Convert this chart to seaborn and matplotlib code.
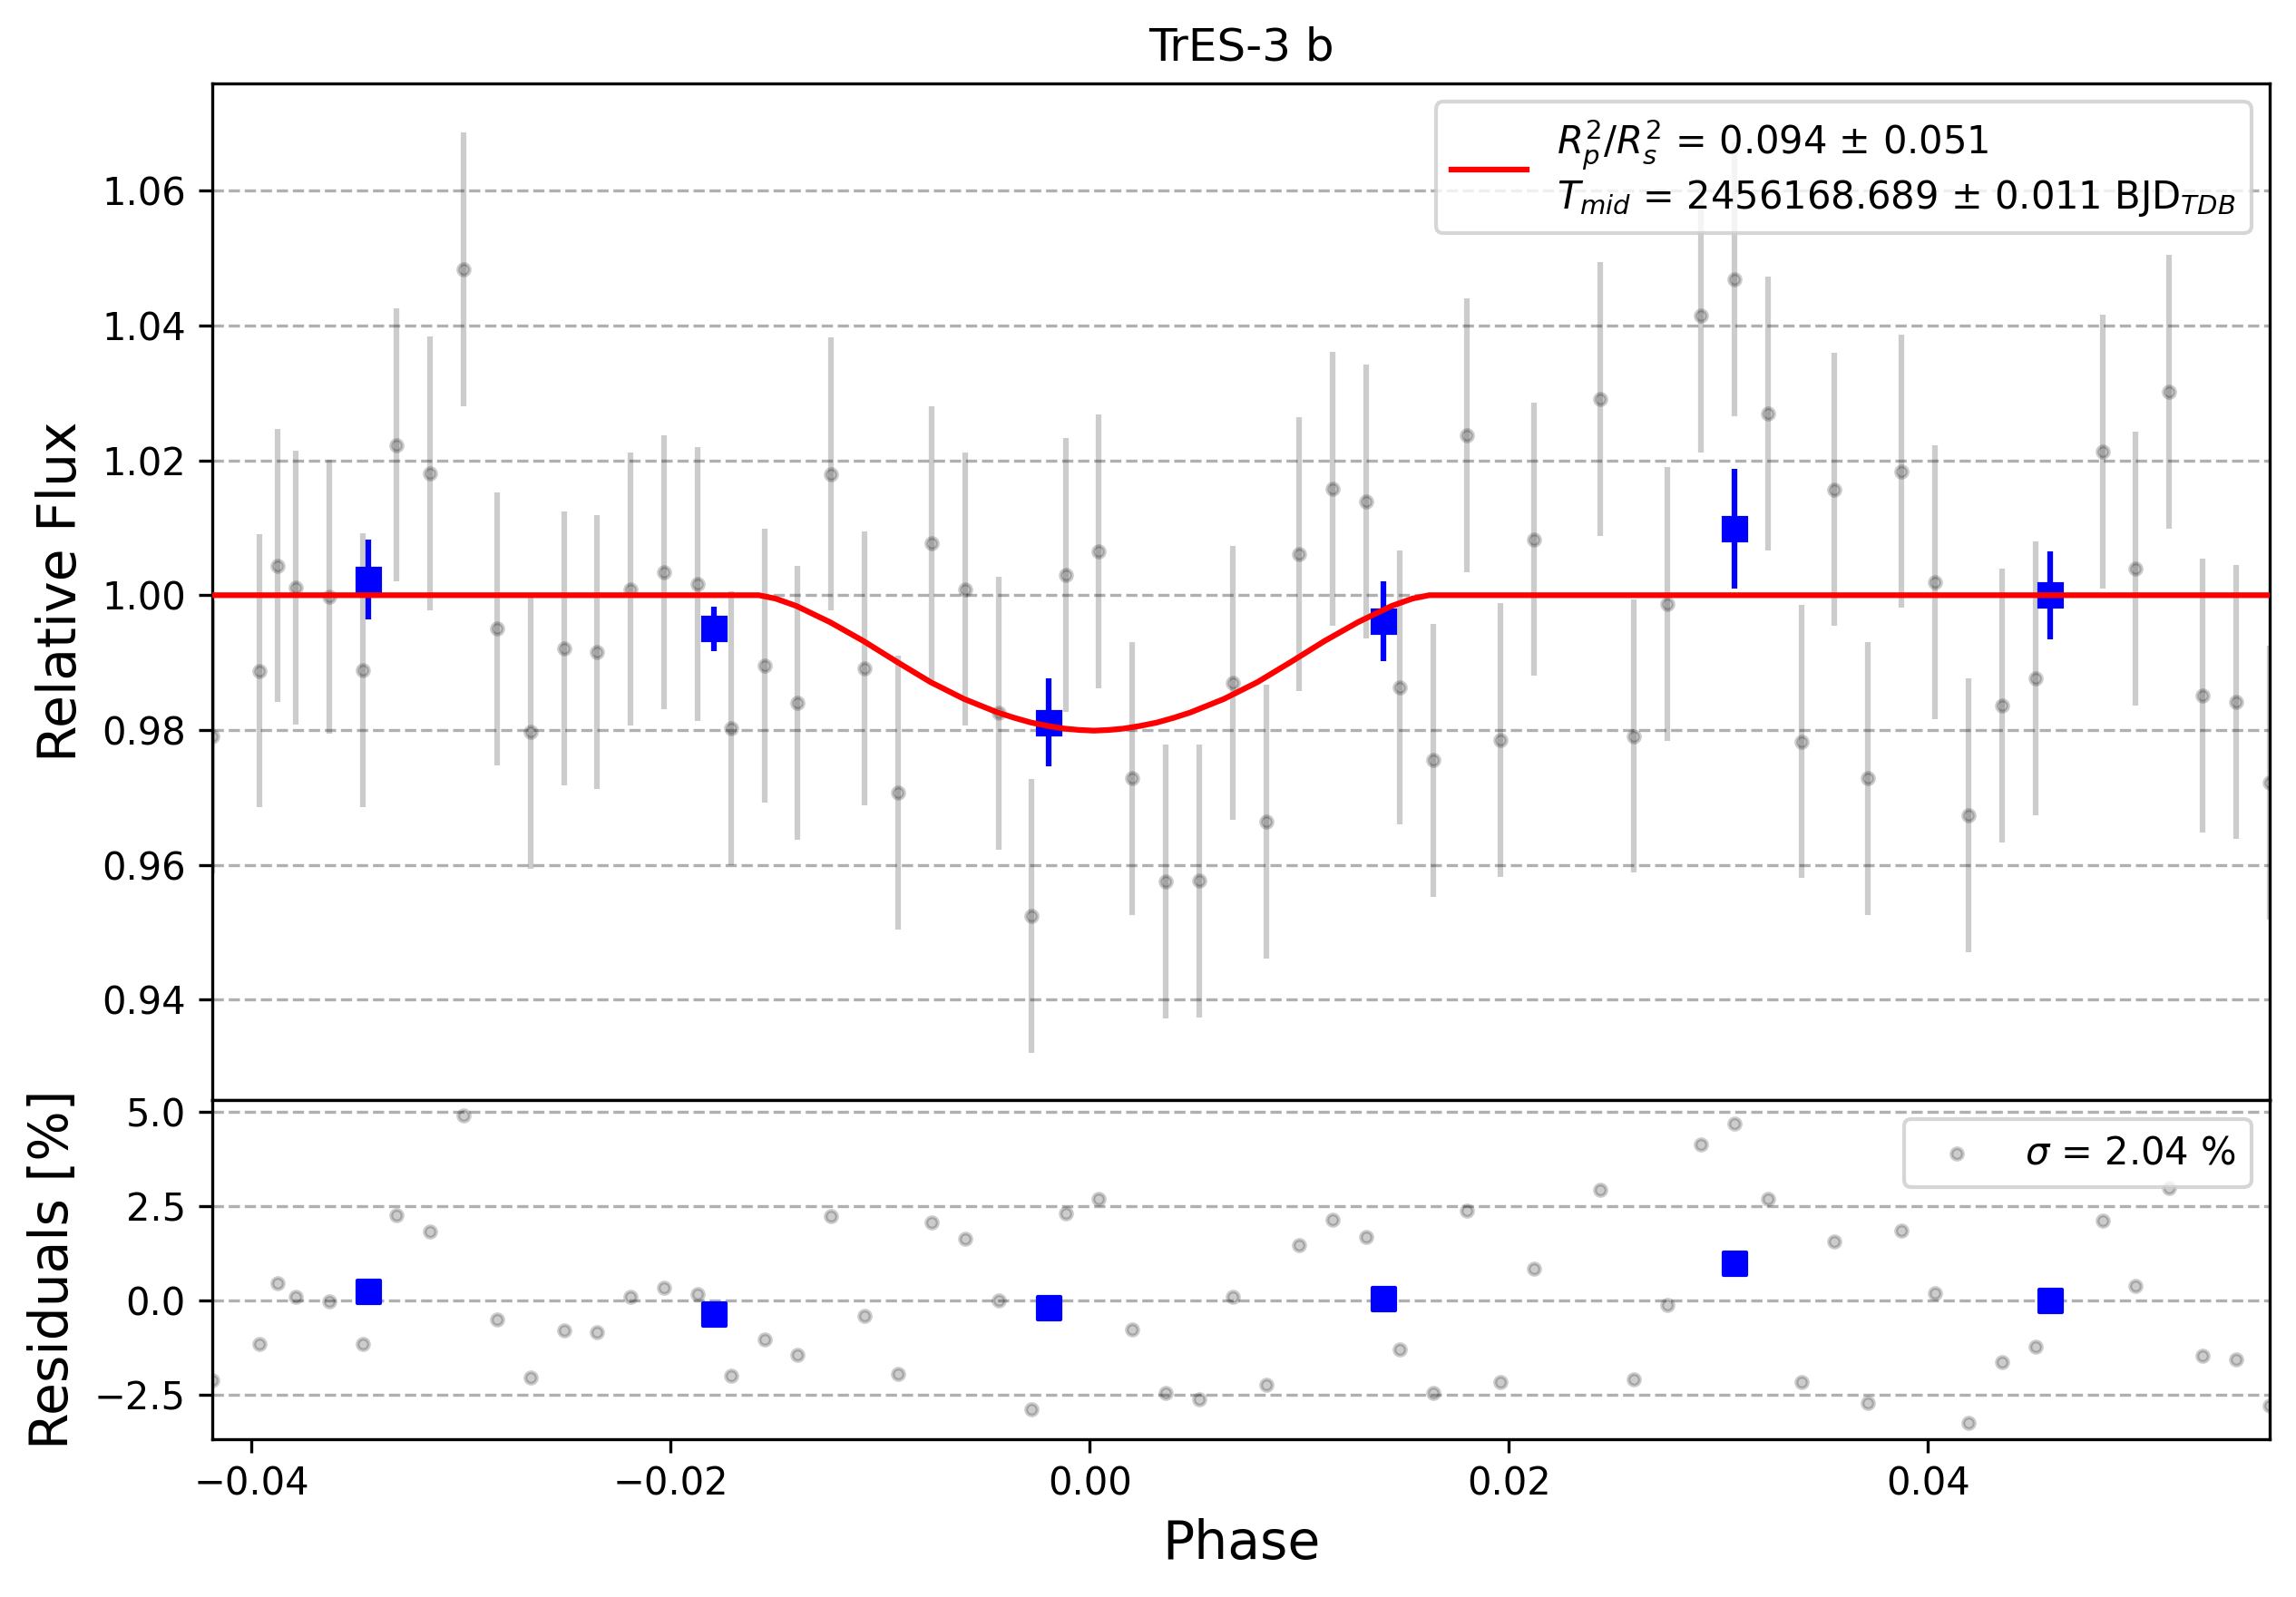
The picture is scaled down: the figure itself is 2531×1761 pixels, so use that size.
import numpy as np
import matplotlib
matplotlib.use("Agg")
import matplotlib.pyplot as plt
import seaborn as sns

# phase folded light curve of TrES-3 b
phase = [-0.04187, -0.03961, -0.03875, -0.03789, -0.03629, -0.03468, -0.03308, -0.03149,
         -0.02989, -0.02828, -0.02668, -0.02510, -0.02353, -0.02193, -0.02032, -0.01872,
         -0.01713, -0.01551, -0.01395, -0.01236, -0.01076, -0.00915, -0.00755, -0.00596,
         -0.00436, -0.00278, -0.00115, 0.00042, 0.00200, 0.00362, 0.00521, 0.00681,
         0.00842, 0.00998, 0.01160, 0.01319, 0.01479, 0.01638, 0.01800, 0.01959,
         0.02119, 0.02436, 0.02596, 0.02755, 0.02917, 0.03076, 0.03236, 0.03395,
         0.03553, 0.03713, 0.03872, 0.04034, 0.04193, 0.04355, 0.04513, 0.04835,
         0.04990, 0.05149, 0.05311, 0.05471, 0.05632]
flux = [0.9790, 0.9888, 1.0044, 1.0011, 0.9998, 0.9889, 1.0223, 1.0181,
        1.0484, 0.9950, 0.9797, 0.9921, 0.9916, 1.0009, 1.0034, 1.0017,
        0.9803, 0.9895, 0.9840, 1.0180, 0.9891, 0.9707, 1.0077, 1.0009,
        0.9825, 0.9524, 1.0030, 1.0065, 0.9728, 0.9575, 0.9576, 0.9870,
        0.9664, 1.0061, 1.0158, 1.0139, 0.9863, 0.9755, 1.0237, 0.9785,
        1.0083, 1.0291, 0.9791, 0.9987, 1.0415, 1.0469, 1.0270, 0.9783,
        1.0157, 0.9728, 1.0184, 1.0019, 0.9673, 0.9836, 0.9877, 1.0213,
        1.0039, 1.0302, 0.9851, 0.9842, 0.9722]
flux_err = 0.0203
resid = [-2.12, -1.14, 0.46, 0.10, -0.02, -1.14, 2.25, 1.83,
         4.91, -0.50, -2.04, -0.79, -0.84, 0.10, 0.34, 0.16,
         -2.00, -1.03, -1.43, 2.24, -0.40, -1.95, 2.07, 1.63,
         0.00, -2.88, 2.31, 2.69, -0.77, -2.44, -2.62, 0.10,
         -2.23, 1.47, 2.14, 1.68, -1.30, -2.44, 2.39, -2.16,
         0.84, 2.93, -2.09, -0.11, 4.13, 4.69, 2.69, -2.16,
         1.56, -2.72, 1.85, 0.19, -3.24, -1.63, -1.23, 2.12,
         0.38, 2.99, -1.47, -1.56, -2.78]

# binned points
bin_phase = [-0.03443, -0.01794, -0.00198, 0.01402, 0.03076, 0.04583]
bin_flux = [1.0023, 0.9950, 0.9811, 0.9961, 1.0099, 1.0000]
bin_err = [0.0059, 0.0033, 0.0065, 0.0059, 0.0089, 0.0065]
bin_resid = [0.24, -0.36, -0.20, 0.04, 0.99, 0.00]

# transit model curve
model_phase = [-0.04187, -0.0158, -0.0150, -0.0140, -0.0124, -0.0108, -0.0092, -0.0076,
               -0.0060, -0.0044, -0.0036, -0.0028, -0.0020, -0.0012, -0.0005, 0.0002,
               0.0009, 0.0016, 0.0024, 0.0032, 0.0040, 0.0048, 0.0064, 0.0080,
               0.0096, 0.0112, 0.0128, 0.0144, 0.0154, 0.0162, 0.05632]
model_flux = [1.0, 1.0, 0.9995, 0.9984, 0.9960, 0.9932, 0.9901, 0.9871,
              0.9846, 0.9826, 0.9818, 0.9811, 0.9806, 0.9802, 0.9800, 0.9799,
              0.9800, 0.9802, 0.9806, 0.9811, 0.9818, 0.9826, 0.9846, 0.9871,
              0.9901, 0.9932, 0.9960, 0.9984, 0.9995, 1.0, 1.0]

fit_label = (r'$R_{p}^{2}/R_{s}^{2}$ = 0.094 $\pm$ 0.051' + '\n'
             + r'$T_{mid}$ = 2456168.689 $\pm$ 0.011 BJD$_{TDB}$')
std_label = r'$\sigma$ = 2.04 %'

fig = plt.figure(figsize=(2531 / 300, 1761 / 300), dpi=300)
gs = fig.add_gridspec(2, 1, height_ratios=[3, 1], hspace=0,
                      left=0.0925, right=0.9887, bottom=0.099, top=0.948)
ax = fig.add_subplot(gs[0])
ax_res = fig.add_subplot(gs[1], sharex=ax)

# top panel
ax.errorbar(phase, flux, yerr=flux_err, fmt='o', ms=3, color='black', alpha=0.2, zorder=2)
ax.errorbar(bin_phase, bin_flux, yerr=bin_err, fmt='s', ms=6, color='blue', zorder=3)
sns.lineplot(x=model_phase, y=model_flux, color='red', lw=1.5, ax=ax,
             estimator=None, sort=False, label=fit_label, zorder=4)
ax.legend(loc='upper right', fontsize=10)
ax.set_ylabel('Relative Flux', fontsize=14)
ax.set_title('TrES-3 b', fontsize=12)
ax.grid(axis='y', ls='--')
ax.tick_params(axis='x', bottom=False, labelbottom=False)
ax.set_xlim(phase[0], phase[-1])
ax.set_ylim(0.9251, 1.0760)

# residuals
sns.scatterplot(x=phase, y=resid, ax=ax_res, marker='o', s=9, color='black',
                edgecolor='black', linewidth=1, alpha=0.2, label=std_label, zorder=2)
sns.scatterplot(x=bin_phase, y=bin_resid, ax=ax_res, marker='s', s=36, color='blue',
                edgecolor='blue', linewidth=1, zorder=3)
ax_res.legend(loc='upper right', fontsize=10)
ax_res.set_ylabel('Residuals [%]', fontsize=14)
ax_res.set_xlabel('Phase', fontsize=14)
ax_res.grid(axis='y', ls='--')
ax_res.set_ylim(-3.66, 5.31)
ax_res.set_yticks([-2.5, 0.0, 2.5, 5.0])

fig.savefig('out.png', dpi=300)
